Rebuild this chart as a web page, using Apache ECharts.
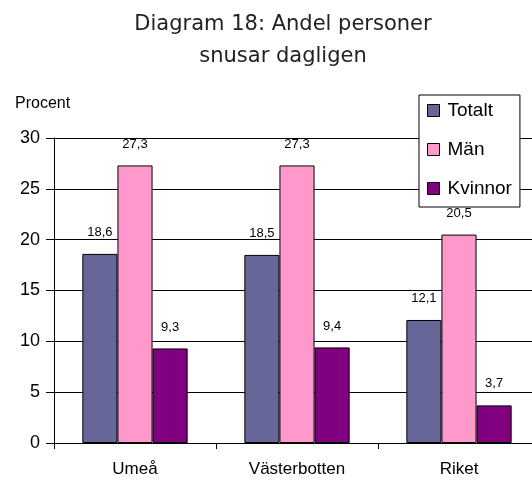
<!DOCTYPE html>
<html>
<head>
<meta charset="utf-8">
<script src="https://cdn.jsdelivr.net/npm/echarts@6/dist/echarts.min.js"></script>
<style>
  html, body { margin: 0; padding: 0; background: #fff; }
  #chart { width: 532px; height: 483px; }
</style>
</head>
<body>
<div id="chart"></div>
<script>
var categories = ['Umeå', 'Västerbotten', 'Riket'];
var totalt = [18.6, 18.5, 12.1];
var man = [27.3, 27.3, 20.5];
var kvinnor = [9.3, 9.4, 3.7];

var font = 'Liberation Sans, Arial, sans-serif';

function label() {
    return {
        show: true,
        position: 'top',
        distance: 15,
        color: '#000',
        fontFamily: font,
        fontSize: 13,
        formatter: function (p) {
            return String(p.value).replace('.', ',');
        }
    };
}

function bar(name, data, color) {
    return {
        name: name,
        type: 'bar',
        data: data,
        barGap: '0%',
        barCategoryGap: '35%',
        itemStyle: { color: color, borderColor: '#000', borderWidth: 1 },
        label: label()
    };
}

var chart = echarts.init(document.getElementById('chart'));
chart.setOption({
    animation: false,
    title: {
        text: 'Diagram 18: Andel personer\nsnusar dagligen',
        left: 278,
        textAlign: 'center',
        top: 4,
        textStyle: {
            fontFamily: 'DejaVu Sans, sans-serif',
            fontSize: 21,
            fontWeight: 'normal',
            color: '#222',
            lineHeight: 32
        }
    },
    legend: {
        orient: 'vertical',
        left: 419,
        top: 95,
        padding: [6, 8, 9, 8],
        itemGap: 20,
        itemWidth: 12,
        itemHeight: 12,
        borderColor: '#000',
        borderWidth: 1,
        backgroundColor: '#fff',
        icon: 'rect',
        textStyle: { fontFamily: font, fontSize: 19, color: '#000', padding: [0, 0, 0, 3] },
        data: [
            { name: 'Totalt', itemStyle: { borderColor: '#000', borderWidth: 1 } },
            { name: 'Män', itemStyle: { borderColor: '#000', borderWidth: 1 } },
            { name: 'Kvinnor', itemStyle: { borderColor: '#000', borderWidth: 1 } }
        ]
    },
    grid: { left: 54, top: 138, width: 486, height: 305, outerBoundsMode: 'none' },
    xAxis: {
        type: 'category',
        data: categories,
        axisLine: { lineStyle: { color: '#000' } },
        axisTick: { show: true, length: 6, lineStyle: { color: '#000' } },
        axisLabel: { color: '#000', fontFamily: font, fontSize: 17, margin: 18 }
    },
    yAxis: {
        type: 'value',
        name: 'Procent',
        nameLocation: 'end',
        nameGap: 26,
        nameTextStyle: { color: '#000', fontFamily: font, fontSize: 16, align: 'left', padding: [0, 0, 0, -39] },
        min: 0,
        max: 30,
        interval: 5,
        axisLine: { show: true, lineStyle: { color: '#000' } },
        axisTick: { show: true, length: 8, lineStyle: { color: '#000' } },
        axisLabel: { color: '#000', fontFamily: font, fontSize: 18, margin: 14 },
        splitLine: { lineStyle: { color: '#000', width: 1 } }
    },
    series: [
        bar('Totalt', totalt, '#666699'),
        bar('Män', man, '#FF99CC'),
        bar('Kvinnor', kvinnor, '#800080')
    ]
});
</script>
</body>
</html>
